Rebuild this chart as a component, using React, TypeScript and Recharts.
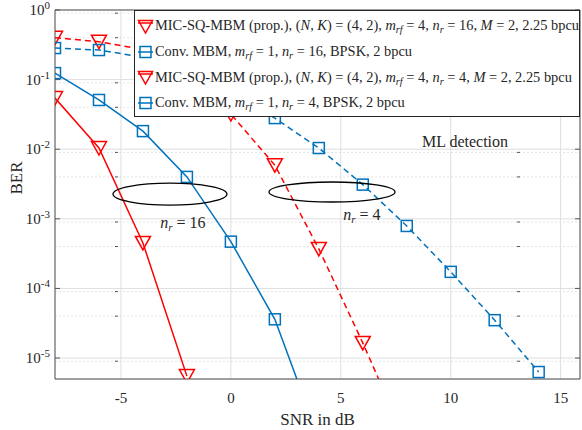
import React from "react";
import { LineChart, Line, XAxis, YAxis, CartesianGrid, ReferenceDot } from "recharts";

// SNR points (dB) and BER values
const snr = [-8, -6, -4, -2, 0, 2, 4, 6, 8, 10, 12, 14];
const micNr16 = [0.0544, 0.0104, 4.5e-4, 5.5e-6];
const convNr16 = [0.124, 0.051, 0.0182, 0.004, 4.7e-4, 3.6e-5, 7e-7];
const micNr4 = [0.4, 0.35, 0.27, 0.12, 0.032, 0.0059, 3.7e-4, 1.65e-5, 6e-7];
const convNr4 = [0.284, 0.266, 0.21, 0.13, 0.065, 0.028, 0.0104, 0.0031, 7.9e-4, 1.73e-4, 3.5e-5, 6.3e-6];

const xTicks = [-5, 0, 5, 10, 15];
const yTicks = [1e-5, 1e-4, 1e-3, 1e-2, 1e-1, 1];
const xDomain = [-8, 15.88];
const yDomain = [5e-6, 1];

// minor decade ticks 2..9 x 10^k
const minorTicks: number[] = [];
for (let k = -6; k <= -1; k++) {
  for (let m = 2; m <= 9; m++) {
    const v = m * Math.pow(10, k);
    if (v >= yDomain[0] && v <= yDomain[1]) minorTicks.push(v);
  }
}

const toRows = (vals: number[]) => vals.map((ber, i) => ({ snr: snr[i], ber }));

const RED = "#FF0000";
const BLUE = "#0072BD";
const AXIS = "#555555";
const TXT = "#262626";
const FONT = "'Liberation Serif', 'Times New Roman', serif";

const TriDown = ({ cx, cy, color }: any) => (
  <polygon
    points={`${cx - 7.5},${cy - 6.5} ${cx + 7.5},${cy - 6.5} ${cx},${cy + 7}`}
    fill="none"
    stroke={color}
    strokeWidth={1.5}
  />
);

const Square = ({ cx, cy, color }: any) => (
  <rect x={cx - 5.5} y={cy - 5.5} width={11} height={11} fill="none" stroke={color} strokeWidth={1.5} />
);

const triDot = (color: string) => (p: any) =>
  <TriDown key={`t${p.index}`} cx={p.cx} cy={p.cy} color={color} />;
const sqDot = (color: string) => (p: any) =>
  <Square key={`s${p.index}`} cx={p.cx} cy={p.cy} color={color} />;

const YTick = ({ y, payload }: any) => {
  const exp = Math.round(Math.log10(payload.value));
  return (
    <text x={50} y={y} textAnchor="end" fontFamily={FONT} fontSize={15} fill={TXT}>
      <tspan dy={5}>10</tspan>
      <tspan dy={-6} fontSize={11}>{exp}</tspan>
    </text>
  );
};

const XTick = ({ x, y, payload }: any) => (
  <text x={x} y={y + 16} textAnchor="middle" fontFamily={FONT} fontSize={15} fill={TXT}>
    {payload.value}
  </text>
);

const NoTick = () => <g />;

const Ellipse = ({ cx, cy, rx, ry }: any) => (
  <ellipse cx={cx} cy={cy} rx={rx} ry={ry} fill="none" stroke="#000" strokeWidth={1.3} />
);

const NrLabel = ({ cx, cy, value }: any) => (
  <text x={cx} y={cy} textAnchor="middle" dy="0.35em" fontFamily={FONT} fontSize={16} fill={TXT}>
    <tspan fontStyle="italic">n</tspan>
    <tspan fontStyle="italic" fontSize={11} dy={3}>r</tspan>
    <tspan dy={-3}>{` = ${value}`}</tspan>
  </text>
);

const PlainLabel = ({ cx, cy, value }: any) => (
  <text x={cx} y={cy} textAnchor="middle" dy="0.35em" fontFamily={FONT} fontSize={16} fill={TXT}>
    {value}
  </text>
);

const Sub = ({ children }: any) => (
  <sub style={{ fontSize: "0.72em", fontStyle: "italic", verticalAlign: "-0.3em", lineHeight: 0 }}>{children}</sub>
);

const LegendIcon = ({ kind, color }: { kind: "tri" | "sq"; color: string }) => (
  <svg width={17} height={18} style={{ flex: "none", marginRight: 1 }}>
    {kind === "tri" ? (
      <>
        <line x1={1} x2={16} y1={6} y2={6} stroke={color} strokeWidth={1.5} />
        <polygon points="1.5,3.5 15.5,3.5 8.5,16" fill="none" stroke={color} strokeWidth={1.5} />
      </>
    ) : (
      <>
        <line x1={1} x2={16} y1={9} y2={9} stroke={color} strokeWidth={1.5} />
        <rect x={3} y={3.5} width={11} height={11} fill="none" stroke={color} strokeWidth={1.5} />
      </>
    )}
  </svg>
);

const legendRows = [
  {
    kind: "tri" as const,
    color: RED,
    text: (
      <>
        MIC-SQ-MBM (prop.), (<i>N</i>, <i>K</i>) = (4, 2), <i>m</i><Sub>rf</Sub> = 4, <i>n</i><Sub>r</Sub> = 16, <i>M</i> = 2, 2.25 bpcu
      </>
    ),
  },
  {
    kind: "sq" as const,
    color: BLUE,
    text: (
      <>
        Conv. MBM, <i>m</i><Sub>rf</Sub> = 1, <i>n</i><Sub>r</Sub> = 16, BPSK, 2 bpcu
      </>
    ),
  },
  {
    kind: "tri" as const,
    color: RED,
    text: (
      <>
        MIC-SQ-MBM (prop.), (<i>N</i>, <i>K</i>) = (4, 2), <i>m</i><Sub>rf</Sub> = 4, <i>n</i><Sub>r</Sub> = 4, <i>M</i> = 2, 2.25 bpcu
      </>
    ),
  },
  {
    kind: "sq" as const,
    color: BLUE,
    text: (
      <>
        Conv. MBM, <i>m</i><Sub>rf</Sub> = 1, <i>n</i><Sub>r</Sub> = 4, BPSK, 2 bpcu
      </>
    ),
  },
];

export default function App() {
  return (
    <div style={{ position: "absolute", left: 0, top: 0, width: 582, height: 430, background: "#fff", overflow: "hidden" }}>
      <LineChart width={582} height={430} margin={{ top: 10, right: 2, bottom: 0, left: 0 }}>
        <CartesianGrid xAxisId="b" yAxisId="min" vertical={false} stroke="#e3e3e3" strokeDasharray="2 2" />
        <CartesianGrid xAxisId="b" yAxisId="l" stroke="#dedede" />

        <XAxis
          xAxisId="b"
          dataKey="snr"
          type="number"
          domain={xDomain}
          ticks={xTicks}
          allowDataOverflow
          height={51}
          tick={XTick}
          tickLine={false}
          axisLine={{ stroke: AXIS }}
          label={{ value: "SNR in dB", position: "insideBottom", offset: 5, fontFamily: FONT, fontSize: 17, fill: TXT }}
        />
        <XAxis xAxisId="bm" type="number" domain={xDomain} ticks={xTicks} allowDataOverflow mirror
          tick={NoTick} tickSize={5} axisLine={false} tickLine={{ stroke: AXIS }} />
        <XAxis xAxisId="t" orientation="top" type="number" domain={xDomain} ticks={xTicks} allowDataOverflow mirror
          tick={NoTick} tickSize={5} axisLine={{ stroke: AXIS }} tickLine={{ stroke: AXIS }} />

        <YAxis
          yAxisId="l"
          scale="log"
          type="number"
          domain={yDomain}
          ticks={yTicks}
          allowDataOverflow
          width={55}
          tick={YTick}
          tickLine={false}
          axisLine={{ stroke: AXIS }}
          label={{ value: "BER", angle: -90, position: "insideLeft", offset: 16, fontFamily: FONT, fontSize: 17, fill: TXT }}
        />
        <YAxis yAxisId="lm" scale="log" type="number" domain={yDomain} ticks={yTicks} allowDataOverflow mirror
          tick={NoTick} tickSize={5} axisLine={false} tickLine={{ stroke: AXIS }} />
        <YAxis yAxisId="min" scale="log" type="number" domain={yDomain} ticks={minorTicks} allowDataOverflow mirror
          tick={NoTick} tickSize={3} axisLine={false} tickLine={{ stroke: AXIS }} />
        <YAxis yAxisId="r" orientation="right" scale="log" type="number" domain={yDomain} ticks={yTicks} allowDataOverflow mirror
          tick={NoTick} tickSize={5} axisLine={{ stroke: AXIS }} tickLine={{ stroke: AXIS }} />
        <YAxis yAxisId="rmin" orientation="right" scale="log" type="number" domain={yDomain} ticks={minorTicks} allowDataOverflow mirror
          tick={NoTick} tickSize={3} axisLine={false} tickLine={{ stroke: AXIS }} />

        <Line xAxisId="b" yAxisId="l" data={toRows(micNr16)} dataKey="ber" stroke={RED} strokeWidth={1.5}
          dot={triDot(RED)} isAnimationActive={false} />
        <Line xAxisId="b" yAxisId="l" data={toRows(convNr16)} dataKey="ber" stroke={BLUE} strokeWidth={1.5}
          dot={sqDot(BLUE)} isAnimationActive={false} />
        <Line xAxisId="b" yAxisId="l" data={toRows(micNr4)} dataKey="ber" stroke={RED} strokeWidth={1.5}
          strokeDasharray="6 4" dot={triDot(RED)} isAnimationActive={false} />
        <Line xAxisId="b" yAxisId="l" data={toRows(convNr4)} dataKey="ber" stroke={BLUE} strokeWidth={1.5}
          strokeDasharray="6 4" dot={sqDot(BLUE)} isAnimationActive={false} />

        <ReferenceDot xAxisId="b" yAxisId="l" x={-2.77} y={2.27e-3} shape={(p: any) => <Ellipse cx={p.cx} cy={p.cy} rx={57} ry={11} />} />
        <ReferenceDot xAxisId="b" yAxisId="l" x={4.6} y={2.43e-3} shape={(p: any) => <Ellipse cx={p.cx} cy={p.cy} rx={63} ry={10} />} />
        <ReferenceDot xAxisId="b" yAxisId="l" x={-2.18} y={9e-4} shape={(p: any) => <NrLabel cx={p.cx} cy={p.cy} value={16} />} />
        <ReferenceDot xAxisId="b" yAxisId="l" x={5.96} y={1.17e-3} shape={(p: any) => <NrLabel cx={p.cx} cy={p.cy} value={4} />} />
        <ReferenceDot xAxisId="b" yAxisId="l" x={10.65} y={0.0131} shape={(p: any) => <PlainLabel cx={p.cx} cy={p.cy} value="ML detection" />} />
      </LineChart>

      <div
        style={{
          position: "absolute",
          left: 134,
          top: 10,
          width: 446,
          height: 107,
          boxSizing: "border-box",
          border: `1px solid ${TXT}`,
          background: "#fff",
          fontFamily: FONT,
          fontSize: 14.4,
          color: TXT,
          paddingTop: 2,
          paddingLeft: 2,
        }}
      >
        {legendRows.map((r, i) => (
          <div key={i} style={{ display: "flex", alignItems: "center", height: 25.7, whiteSpace: "nowrap" }}>
            <LegendIcon kind={r.kind} color={r.color} />
            <span>{r.text}</span>
          </div>
        ))}
      </div>
    </div>
  );
}
